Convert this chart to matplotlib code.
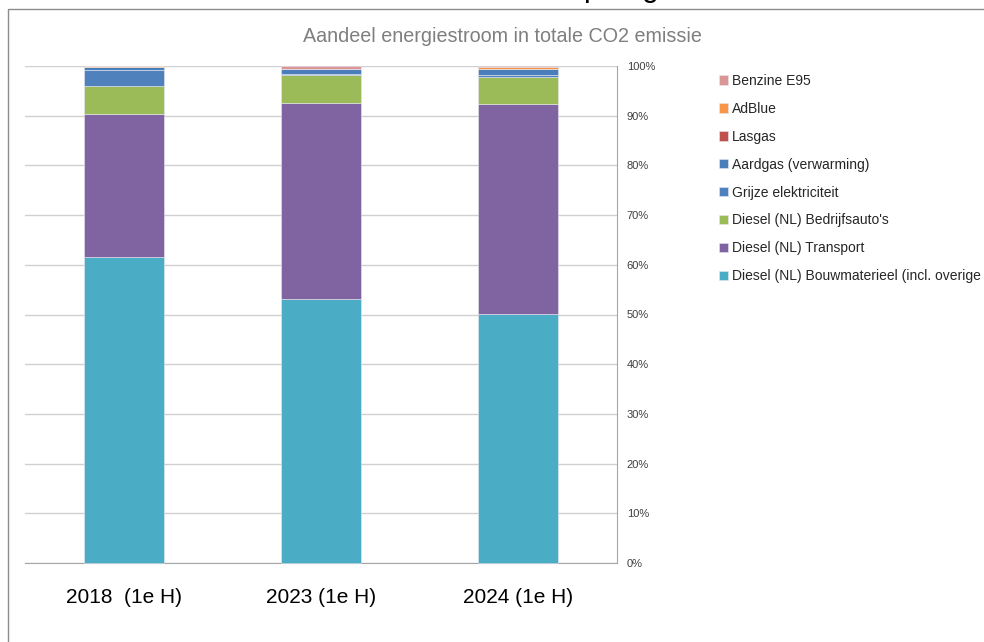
import matplotlib
matplotlib.use("Agg")
import matplotlib.pyplot as plt
from matplotlib import font_manager
from matplotlib.patches import Rectangle

# pick a narrow font if there is one (chart was made in Calibri)
names = {f.name for f in font_manager.fontManager.ttflist}
font = 'Liberation Sans Narrow' if 'Liberation Sans Narrow' in names else 'Liberation Sans'
plt.rcParams['font.family'] = [font, 'DejaVu Sans']

# data (fractions of total CO2 emission, bottom to top)
categories = ['2018  (1e H)', '2023 (1e H)', '2024 (1e H)']
series = ['Diesel (NL) Bouwmaterieel (incl. overige',
          'Diesel (NL) Transport',
          "Diesel (NL) Bedrijfsauto's",
          'Grijze elektriciteit',
          'Aardgas (verwarming)',
          'Lasgas',
          'AdBlue',
          'Benzine E95']
bouw = [0.615, 0.532, 0.501]
transport = [0.288, 0.394, 0.423]
bedrijf = [0.057, 0.055, 0.0545]
grijze = [0.032, 0.003, 0.0035]
aardgas = [0.005, 0.009, 0.012]
lasgas = [0.0005, 0.0005, 0.0005]
adblue = [0.0025, 0.0005, 0.004]
benzine = [0.0, 0.006, 0.0015]
values = [bouw, transport, bedrijf, grijze, aardgas, lasgas, adblue, benzine]
colors = ['#4BACC6', '#8064A2', '#9BBB59', '#4F81BD', '#4A7EBB',
          '#C0504D', '#F79646', '#D99694']

fig = plt.figure(figsize=(9.84, 6.42), dpi=100)
ax = fig.add_axes([25/984, 79/642, 592/984, 497/642])

x = range(len(categories))
bottom = [0.0] * len(categories)
handles = []
for vals, col, name in zip(values, colors, series):
    b = ax.bar(x, vals, 0.405, bottom=bottom, color=col, edgecolor='#e8e8f0',
               linewidth=0.4, label=name, zorder=3, clip_on=False)
    handles.append(b)
    bottom = [bo + v for bo, v in zip(bottom, vals)]

ax.set_xlim(-0.5, 2.5)
ax.set_ylim(0, 1)
ax.set_yticks([i / 10 for i in range(11)])
ax.set_yticklabels([f'{i*10}%' for i in range(11)], fontsize=8, color='#404040')
ax.yaxis.tick_right()
ax.tick_params(axis='y', length=0, pad=7)
ax.set_xticks(list(x))
ax.set_xticklabels(categories, fontsize=15)
ax.tick_params(axis='x', length=0, pad=18)
ax.grid(axis='y', color='#d0d0d0', linewidth=1, zorder=0)
for s in ['top', 'left']:
    ax.spines[s].set_visible(False)
ax.spines['right'].set_color('#a6a6a6')
ax.spines['bottom'].set_color('#a6a6a6')

# chart title, centred on the chart area
fig.text(502/984, 1 - 36/642, 'Aandeel energiestroom in totale CO2 emissie',
         fontsize=14.2, color='#7f7f7f', ha='center', va='center')

leg = fig.legend(handles[::-1], series[::-1], loc='upper left',
                 bbox_to_anchor=(719/984, 1 - 74/642), frameon=False,
                 fontsize=10, handlelength=0.65, handleheight=0.65,
                 handletextpad=0.25, labelspacing=1.0, borderpad=0,
                 borderaxespad=0)
for t in leg.get_texts():
    t.set_color('#262626')

# chart area border (cut off at right and bottom)
fig.patches.append(Rectangle((8/984, -0.1), 1.2, 1.1 - 9/642,
                             transform=fig.transFigure, fill=False,
                             edgecolor='#8c8c8c', linewidth=1))
# big page heading above, only descenders visible
fig.text(583/984, 1 + 4/642, 'p', fontsize=22, ha='left', va='baseline')
fig.text(642/984, 1 + 4/642, 'g', fontsize=22, ha='left', va='baseline')

fig.savefig('out.png', dpi=100)
